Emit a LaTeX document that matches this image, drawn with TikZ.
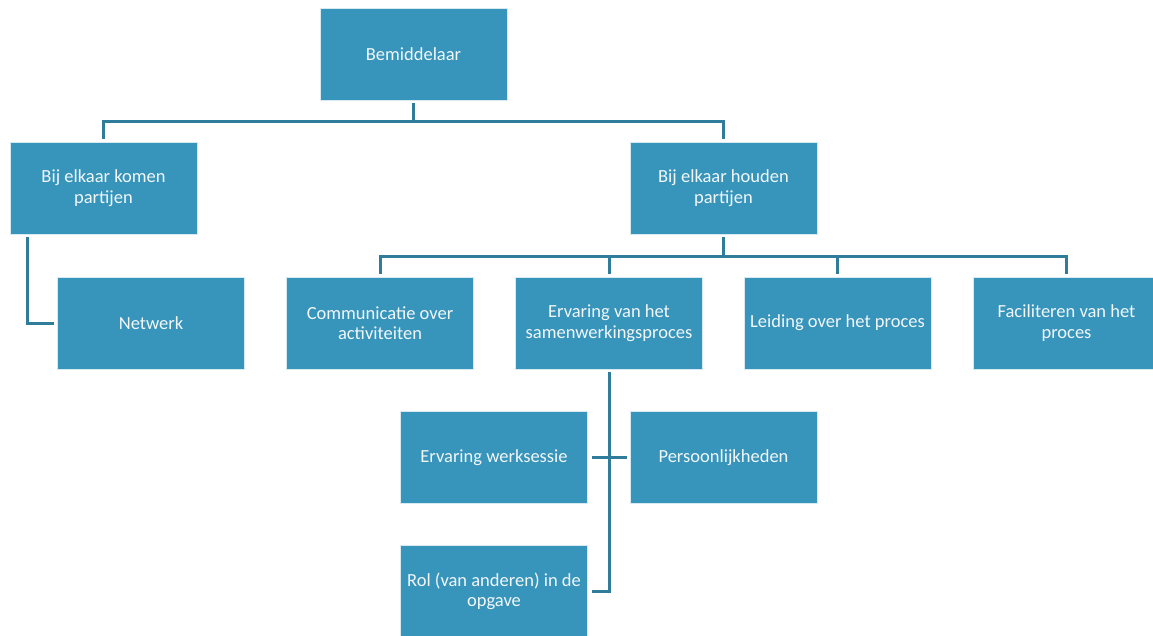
\documentclass[tikz,border=0pt]{standalone}
\usepackage{fontspec}
\setmainfont{Carlito}
\definecolor{boxblue}{HTML}{3794BB}
\definecolor{linkblue}{HTML}{2F7C9B}
\definecolor{boxtext}{HTML}{F2F7FA}
\begin{document}
\begin{tikzpicture}[x=1pt,y=-1pt,
  unit/.style={rectangle, fill=boxblue, draw=white!80!boxblue, line width=0.8pt,
    minimum width=187pt, minimum height=92pt, inner sep=0pt,
    text=boxtext, align=center,
    font=\fontsize{18.5}{20.5}\selectfont},
  conn/.style={draw=linkblue, line width=3pt}]
\useasboundingbox (0,0) rectangle (1153,635);

% top level
\node[unit] (bem) at (413.5,54) {Bemiddelaar};

% second level
\node[unit] (komen) at (103.5,188) {Bij elkaar komen\\partijen};
\node[unit] (houden) at (723.5,188) {Bij elkaar houden\\partijen};

% third level
\node[unit] (netwerk) at (151,323) {Netwerk};
\node[unit] (comm) at (380,323) {Communicatie over\\activiteiten};
\node[unit] (erv) at (609,323) {Ervaring van het\\samenwerkingsproces};
\node[unit] (leid) at (837.5,323) {Leiding over het proces};
\node[unit] (fac) at (1066.5,323) {Faciliteren van het\\proces};

% fourth level
\node[unit] (werk) at (494,457.5) {Ervaring werksessie};
\node[unit] (pers) at (723.5,457.5) {Persoonlijkheden};
\node[unit] (rol) at (494,591.5) {Rol (van anderen) in de\\opgave};

% junction points of the branches
\coordinate (j1) at (413.5,121);
\coordinate (j2) at (723.5,256);

% Bemiddelaar branch
\draw[conn, shorten <=3pt] (bem.south) -- (j1);
\draw[conn, shorten >=3pt] (j1) -| (komen.north);
\draw[conn, shorten >=3pt] (j1) -| (houden.north);

% Bij elkaar komen branch
\draw[conn, shorten <=3pt, shorten >=3pt] ([xshift=18pt]komen.south west) |- (netwerk.west);

% Bij elkaar houden branch
\draw[conn, shorten <=3pt] (houden.south) -- (j2);
\draw[conn, shorten >=3pt] (j2) -| (comm.north);
\draw[conn, shorten >=3pt] (j2) -| (erv.north);
\draw[conn, shorten >=3pt] (j2) -| (leid.north);
\draw[conn, shorten >=3pt] (j2) -| (fac.north);

% Ervaring van het samenwerkingsproces branch
\draw[conn, shorten <=3pt, shorten >=4pt] (erv.south) |- (rol.east);
\draw[conn, shorten <=4pt, shorten >=3pt] (werk.east) -- (pers.west);
\end{tikzpicture}
\end{document}
